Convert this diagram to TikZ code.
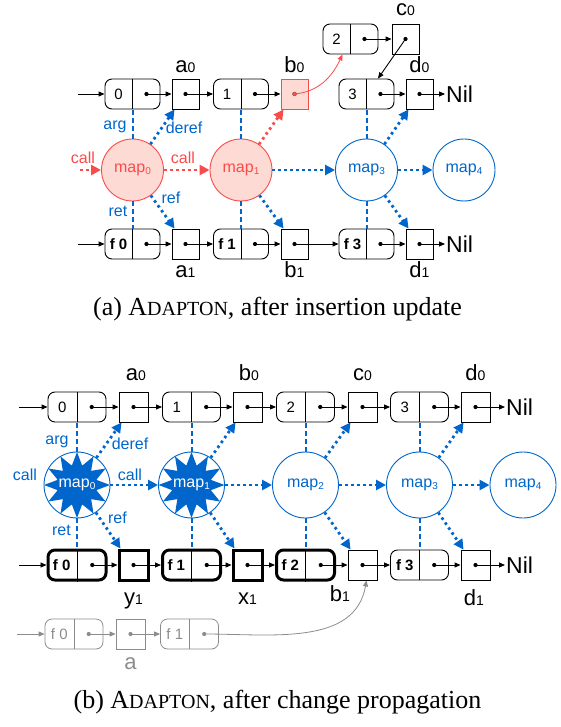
\documentclass[tikz,border=0pt]{standalone}
\usepackage{fontspec}
\setmainfont{Liberation Serif}
\newfontfamily\hel{Liberation Sans}
\usetikzlibrary{arrows.meta,calc}
\definecolor{myblue}{RGB}{0,102,204}
\definecolor{myred}{RGB}{250,75,75}
\definecolor{mypink}{RGB}{253,218,212}
\definecolor{mygray}{RGB}{140,140,140}
\newcommand\fs[1]{\fontsize{#1}{#1}\selectfont}
\newcommand\lbl[2]{#1{\fs{14}#2}}
\newcommand\msub[1]{\raisebox{-2pt}{\fs{10}#1}}
\newcommand\mkcons[5][]{%
  \node[cons,#1] (#2) at (#3,#4) {};
  \draw[line width=0.8pt] (#2.north) -- (#2.south);
  \node[consnum] (#2t) at ($(#2.center)!0.5!(#2.west)$) {#5};
  \coordinate (#2d) at ($(#2.center)!0.5!(#2.east)$);
  \fill (#2d) circle (2.1pt);
}
\newcommand\mkbox[4][]{%
  \node[boxc,#1] (#2) at (#3,#4) {};
  \coordinate (#2d) at (#2.center);
  \fill (#2d) circle (2.1pt);
}
\newcommand\starburst[1]{%
  \fill[myblue] ($(#1)+(90:33)$) \foreach \i in {0,...,11} { -- ($(#1)+(90+\i*30+15:20)$) -- ($(#1)+(90+\i*30+30:33)$) } -- cycle;
}
\begin{document}
\begin{tikzpicture}[x=1pt,y=-1pt,font=\hel,
  cons/.style={draw,rounded corners=7pt,minimum width=58pt,minimum height=30pt,inner sep=0pt,line width=0.9pt},
  boxc/.style={draw,minimum width=29pt,minimum height=30pt,inner sep=0pt,line width=0.9pt},
  boldc/.style={line width=3pt},
  consnum/.style={inner sep=0pt,font=\hel\fs{15}},
  lab/.style={anchor=base,inner sep=0pt,font=\hel\fs{22}},
  nil/.style={anchor=west,inner sep=1pt,font=\hel\fs{23}},
  blk/.style={-{Triangle[length=6pt,width=5pt]},line width=0.9pt},
  bdot/.style={myblue,line width=2.8pt,dash pattern=on 2.6pt off 3.4pt,-{Triangle[length=10pt,width=10pt]}},
  rdot/.style={bdot,myred},
  bdash/.style={myblue,line width=2pt,dash pattern=on 5pt off 3pt},
  mapc/.style={circle,draw=myblue,line width=0.9pt,minimum size=62pt,inner sep=0pt,fill=white,text=myblue,font=\hel\fs{16}},
  redmap/.style={draw=myred,fill=mypink,text=myred},
  smalllbl/.style={inner sep=0pt,anchor=base,font=\hel\fs{16},myblue},
  captxt/.style={anchor=base,inner sep=0pt,font=\rmfamily\fs{26}}]
\useasboundingbox (0,0) rectangle (561,727);
% ================= (a) =================
\begin{scope}[cons/.append style={minimum width=55pt},boxc/.append style={minimum width=27pt}]
\mkcons{A0c}{132.5}{94}{0}
\mkbox{A0a}{185.5}{94}
\mkcons{A1c}{241}{94}{1}
\mkbox[fill=mypink,draw=myred]{A0b}{294.5}{94}
\fill[myred] (A0bd) circle (2.1pt);
\mkcons{A2c}{350.5}{39}{2}
\mkbox{A0cc}{405.5}{39}
\mkcons{A3c}{366.5}{94}{3}
\mkbox{A0d}{419.5}{94}
\node[nil] (NilA) at (445,94) {Nil};
\coordinate (eA) at (78,94);
\draw[blk] (eA) -- (A0c);
\draw[blk] (A0cd) -- (A0a);
\draw[blk] (A0ad) -- (A1c);
\draw[blk] (A1cd) -- (A0b);
\draw[-{Triangle[length=6pt,width=5pt]},myred,line width=0.8pt] (A0bd) to[out=5,in=-115] ($(A2c.south)+(-8,0)$);
\draw[blk] (A2cd) -- (A0cc);
\draw[blk] (A0ccd) -- ($(A3c.north)+(11.5,0)$);
\draw[blk] (A3cd) -- (A0d);
\draw[blk] (A0dd) -- (NilA);
\node[lab] (la0) at (185.5,73) {\lbl{a}{0}};
\node[lab] (lb0) at (294.5,73) {\lbl{b}{0}};
\node[lab] (lc0) at (405.5,16) {\lbl{c}{0}};
\node[lab] (ld0) at (419.5,73) {\lbl{d}{0}};
% bottom row
\mkcons{B0c}{132.5}{244}{\textbf{f 0}}
\mkbox{B0a}{185.5}{244}
\mkcons{B1c}{241}{244}{\textbf{f 1}}
\mkbox{B0b}{294.5}{244}
\mkcons{B3c}{366.5}{244}{\textbf{f 3}}
\mkbox{B0d}{419.5}{244}
\node[nil] (NilB) at (445,244) {Nil};
\coordinate (eB) at (78,244);
\draw[blk] (eB) -- (B0c);
\draw[blk] (B0cd) -- (B0a);
\draw[blk] (B0ad) -- (B1c);
\draw[blk] (B1cd) -- (B0b);
\draw[blk] (B0bd) -- (B3c);
\draw[blk] (B3cd) -- (B0d);
\draw[blk] (B0dd) -- (NilB);
\node[lab] (la1) at (185.5,277) {\lbl{a}{1}};
\node[lab] (lb1) at (294.5,277) {\lbl{b}{1}};
\node[lab] (ld1) at (419.5,277) {\lbl{d}{1}};
% maps
\node[mapc,redmap] (M0) at (132.5,170) {map\msub{0}};
\node[mapc,redmap] (M1) at (241,170) {map\msub{1}};
\node[mapc] (M3) at (366.5,170) {map\msub{3}};
\node[mapc] (M4) at (464,170) {map\msub{4}};
\draw[bdash] (M0.north) -- (A0c.south);
\draw[bdash] (M1.north) -- (A1c.south);
\draw[bdash] (M3.north) -- (A3c.south);
\draw[bdash] (M0.south) -- (B0c.north);
\draw[bdash] (M1.south) -- (B1c.north);
\draw[bdash] (M3.south) -- (B3c.north);
\draw[bdot] (M0) -- ($(A0a.south west)+(3,0)$);
\draw[rdot] (M1) -- ($(A0b.south west)+(3,0)$);
\draw[bdot] (M3) -- ($(A0d.south west)+(3,0)$);
\draw[bdot] (M0) -- ($(B0a.north west)+(3,0)$);
\draw[bdot] (M1) -- ($(B0b.north west)+(3,0)$);
\draw[bdot] (M3) -- ($(B0d.north west)+(3,0)$);
\coordinate (cA) at (80,170);
\draw[rdot] (cA) -- (M0);
\draw[rdot] (M0) -- (M1);
\draw[bdot] (M1) -- (M3);
\draw[bdot] (M3) -- (M4);
\node[smalllbl] (targ) at (115,130) {arg};
\node[smalllbl] (tderef) at (184,134) {deref};
\node[smalllbl] (tret) at (118,216) {ret};
\node[smalllbl] (tref) at (171,204) {ref};
\node[smalllbl,myred] (tcall1) at (83,164) {call};
\node[smalllbl,myred] (tcall2) at (183,164) {call};
\end{scope}
\node[captxt] (capa) at (277.5,315) {(a) A{\fs{20}DAPTON}, after insertion update};
% ================= (b) =================
\mkcons{C0}{77}{407}{0}
\mkbox{Ca0}{133.5}{407}
\mkcons{C1}{191.5}{407}{1}
\mkbox{Cb0}{247.5}{407}
\mkcons{C2}{305.5}{407}{2}
\mkbox{Cc0}{362.5}{407}
\mkcons{C3}{419.5}{407}{3}
\mkbox{Cd0}{475.5}{407}
\node[nil] (NilC) at (505,407) {Nil};
\coordinate (eC) at (19,407);
\draw[blk] (eC) -- (C0);
\draw[blk] (C0d) -- (Ca0);
\draw[blk] (Ca0d) -- (C1);
\draw[blk] (C1d) -- (Cb0);
\draw[blk] (Cb0d) -- (C2);
\draw[blk] (C2d) -- (Cc0);
\draw[blk] (Cc0d) -- (C3);
\draw[blk] (C3d) -- (Cd0);
\draw[blk] (Cd0d) -- (NilC);
\node[lab] (lba0) at (136,380) {\lbl{a}{0}};
\node[lab] (lbb0) at (249,380) {\lbl{b}{0}};
\node[lab] (lbc0) at (362.5,380) {\lbl{c}{0}};
\node[lab] (lbd0) at (475.5,380) {\lbl{d}{0}};
% bottom row
\mkcons[boldc]{F0}{77}{565}{\textbf{f 0}}
\mkbox[boldc]{Y1}{133.5}{565}
\mkcons[boldc]{F1}{191.5}{565}{\textbf{f 1}}
\mkbox[boldc]{X1}{247.5}{565}
\mkcons[boldc]{F2}{305.5}{565}{\textbf{f 2}}
\mkbox{B1}{362.5}{565}
\mkcons{F3}{419.5}{565}{\textbf{f 3}}
\mkbox{D1}{475.5}{565}
\node[nil] (NilD) at (505,565) {Nil};
\coordinate (eD) at (19,565);
\draw[blk] (eD) -- (F0);
\draw[blk] (F0d) -- (Y1);
\draw[blk] (Y1d) -- (F1);
\draw[blk] (F1d) -- (X1);
\draw[blk] (X1d) -- (F2);
\draw[blk] (F2d) -- (B1);
\draw[blk] (B1d) -- (F3);
\draw[blk] (F3d) -- (D1);
\draw[blk] (D1d) -- (NilD);
\node[lab] (ly1) at (133.5,604) {\lbl{y}{1}};
\node[lab] (lx1) at (247.5,604) {\lbl{x}{1}};
\node[lab] (lbb1) at (340,601) {\lbl{b}{1}};
\node[lab] (lbd1) at (474,605) {\lbl{d}{1}};
% gray row
\begin{scope}[color=mygray,cons/.append style={line width=0.8pt},boxc/.append style={line width=0.8pt}]
\mkcons{G0}{74}{634}{f 0}
\mkbox{Ga}{130.5}{634}
\mkcons{G1}{189.5}{634}{f 1}
\coordinate (eG) at (17,634);
\draw[blk,line width=0.8pt] (eG) -- (G0);
\draw[blk,line width=0.8pt] (G0d) -- (Ga);
\draw[blk,line width=0.8pt] (Gad) -- (G1);
\draw[blk,line width=0.8pt] (G1d) to[out=0,in=-100] ($(B1.south)+(4,0)$);
\node[lab] (lga) at (130.5,669) {a};
\end{scope}
% maps
\node[mapc,minimum size=66pt] (N0) at (77,485) {};
\starburst{N0}
\node[inner sep=0pt,text=white,font=\hel\fs{16}] (N0t) at (N0) {map\msub{0}};
\node[mapc,minimum size=66pt] (N1) at (191.5,485) {};
\starburst{N1}
\node[inner sep=0pt,text=white,font=\hel\fs{16}] (N1t) at (N1) {map\msub{1}};
\node[mapc,minimum size=66pt] (N2) at (305.5,485) {map\msub{2}};
\node[mapc,minimum size=66pt] (N3) at (419.5,485) {map\msub{3}};
\node[mapc,minimum size=66pt] (N4) at (523,485) {map\msub{4}};
\draw[bdash] (N0.north) -- (C0.south);
\draw[bdash] (N1.north) -- (C1.south);
\draw[bdash] (N2.north) -- (C2.south);
\draw[bdash] (N3.north) -- (C3.south);
\draw[bdash] (N0.south) -- (F0.north);
\draw[bdash] (N1.south) -- (F1.north);
\draw[bdash] (N2.south) -- (F2.north);
\draw[bdash] (N3.south) -- (F3.north);
\draw[bdot] (N0) -- ($(Ca0.south west)+(3,0)$);
\draw[bdot] (N1) -- ($(Cb0.south west)+(3,0)$);
\draw[bdot] (N2) -- ($(Cc0.south west)+(3,0)$);
\draw[bdot] (N3) -- ($(Cd0.south west)+(3,0)$);
\draw[bdot] (N0) -- ($(Y1.north west)+(3,0)$);
\draw[bdot] (N1) -- ($(X1.north west)+(3,0)$);
\draw[bdot] (N2) -- ($(B1.north west)+(3,0)$);
\draw[bdot] (N3) -- ($(D1.north west)+(3,0)$);
\draw[bdot] (N0) -- (N1);
\draw[bdot] (N1) -- (N2);
\draw[bdot] (N2) -- (N3);
\draw[bdot] (N3) -- (N4);
\node[smalllbl] (targb) at (57,444) {arg};
\node[smalllbl] (tderefb) at (130,449) {deref};
\node[smalllbl] (tretb) at (61.5,535) {ret};
\node[smalllbl] (trefb) at (117.5,523) {ref};
\node[smalllbl] (tcallb1) at (25,480) {call};
\node[smalllbl] (tcallb2) at (130,480) {call};
\node[captxt] (capb) at (277.5,708) {(b) A{\fs{20}DAPTON}, after change propagation};
\end{tikzpicture}
\end{document}
